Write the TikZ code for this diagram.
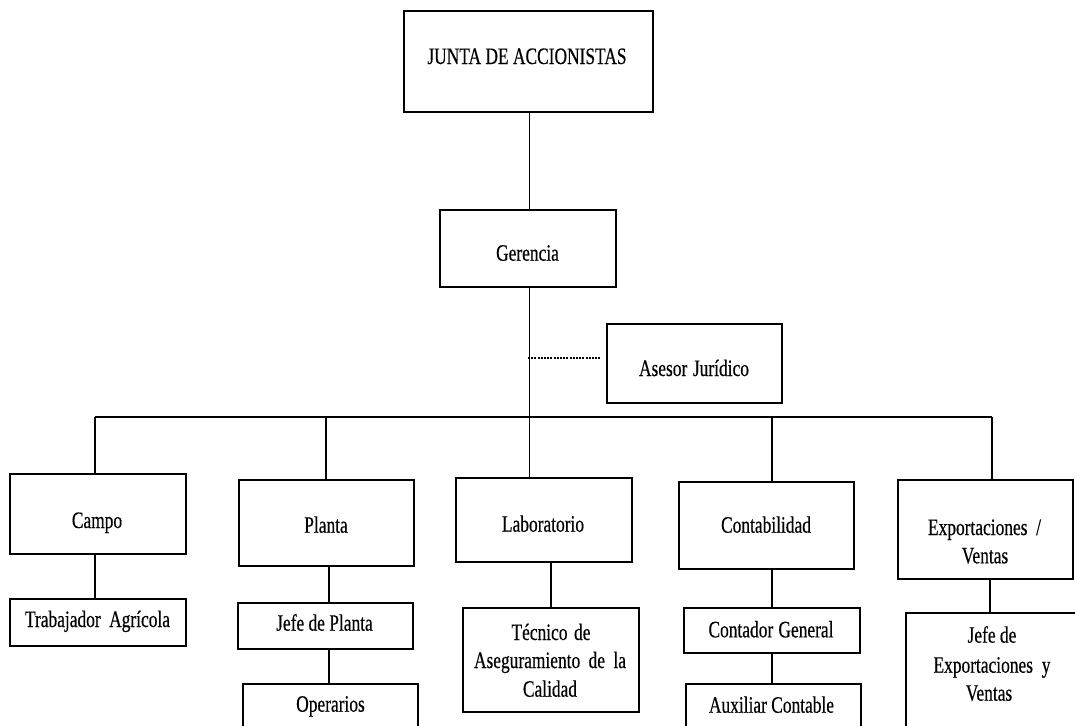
\documentclass[tikz,border=0pt]{standalone}
\usepackage{fontspec}
\setmainfont{Liberation Serif}[FakeStretch=0.74,FakeBold=0.4]
\begin{document}
\begin{tikzpicture}[x=1pt,y=-1pt,
  box/.style={draw=black, line width=1.4pt, fill=white, inner sep=0pt, outer sep=0pt},
  lbl/.style={anchor=base, inner sep=0pt, outer sep=0pt, text=black,
              font=\fontsize{23.5}{28}\selectfont},
  conn/.style={draw=black, line width=1.3pt},
  dashconn/.style={draw=black, line width=1.1pt, dash pattern=on 2pt off 1.2pt}]
\useasboundingbox (0,0) rectangle (1075,725);
\clip (0,0) rectangle (1075,725);
\fill[white] (0,0) rectangle (1075,725);

% boxes
\node[box, minimum width=249pt, minimum height=101pt] (junta) at (528.5,61.5) {};
\node[box, minimum width=176pt, minimum height=77pt] (gerencia) at (528,248.5) {};
\node[box, minimum width=175pt, minimum height=79pt] (asesor) at (694.5,363.5) {};
\node[box, minimum width=176pt, minimum height=80pt] (campo) at (98,514) {};
\node[box, minimum width=176pt, minimum height=47pt] (trab) at (98,622.5) {};
\node[box, minimum width=175pt, minimum height=86pt] (planta) at (326.5,523) {};
\node[box, minimum width=175pt, minimum height=46pt] (jefep) at (325.5,626) {};
\node[box, minimum width=175pt, minimum height=86pt] (oper) at (330.5,727) {};
\node[box, minimum width=176pt, minimum height=84pt] (lab) at (544,520) {};
\node[box, minimum width=176pt, minimum height=104pt] (tec) at (551,660) {};
\node[box, minimum width=175pt, minimum height=87pt] (contab) at (766.5,525.5) {};
\node[box, minimum width=176pt, minimum height=45pt] (contador) at (772,630.5) {};
\node[box, minimum width=175pt, minimum height=86pt] (aux) at (773.5,727) {};
\node[box, minimum width=175pt, minimum height=99pt] (export) at (985.5,529.5) {};
\node[box, minimum width=175pt, minimum height=137pt] (jefex) at (993.5,681.5) {};

% labels
\node[lbl] (junta-t) at (527,64) {JUNTA DE ACCIONISTAS};
\node[lbl] (gerencia-t) at (527.5,260.7) {Gerencia};
\node[lbl] (asesor-t) at (694,376) {\makebox[110pt][s]{Asesor Jurídico}};
\node[lbl] (campo-t) at (97,528) {Campo};
\node[lbl] (trab-t) at (97.5,627) {\makebox[145pt][s]{Trabajador Agrícola}};
\node[lbl] (planta-t) at (326,532.7) {Planta};
\node[lbl] (jefep-t) at (324.5,630.7) {Jefe de Planta};
\node[lbl] (oper-t) at (330.5,711.7) {Operarios};
\node[lbl] (lab-t) at (543,531.7) {Laboratorio};
\node[lbl] (tec-t1) at (551,640) {\makebox[79pt][s]{Técnico de}};
\node[lbl] (tec-t2) at (550,668) {\makebox[152pt][s]{Aseguramiento de la}};
\node[lbl] (tec-t3) at (550,696.7) {Calidad};
\node[lbl] (contab-t) at (766,532.7) {Contabilidad};
\node[lbl] (contador-t) at (771,637.3) {\makebox[125pt][s]{Contador General}};
\node[lbl] (aux-t) at (771.5,712.7) {Auxiliar Contable};
\node[lbl] (export-t1) at (984.5,535) {\makebox[113pt][s]{Exportaciones /}};
\node[lbl] (export-t2) at (985,563.3) {Ventas};
\node[lbl] (jefex-t1) at (992,642.7) {Jefe de};
\node[lbl] (jefex-t2) at (992,672.7) {\makebox[117pt][s]{Exportaciones y}};
\node[lbl] (jefex-t3) at (989,700.7) {Ventas};

% bus coordinates
\coordinate (trunk) at (529.5,417);
\coordinate (busL) at (95,417);
\coordinate (busR) at (992,417);
\coordinate (dashL) at (528,358);

% connectors
\draw[conn] (junta.south -| trunk) -- (gerencia.north -| trunk);
\draw[conn] (gerencia.south -| trunk) -- (lab.north -| trunk);
\draw[conn] (busL) -- (busR);
\draw[conn] (busL) -- (campo.north -| busL);
\draw[conn] (planta.north -| 326,0) -- (326,417);
\draw[conn] (contab.north -| 772,0) -- (772,417);
\draw[conn] (busR) -- (export.north -| busR);
\draw[dashconn] (dashL) -- ([xshift=-6pt]asesor.west |- dashL);

\draw[conn] (campo.south -| 95,0) -- (trab.north -| 95,0);
\draw[conn] (planta.south -| 329,0) -- (jefep.north -| 329,0);
\draw[conn] (jefep.south -| 329,0) -- (oper.north -| 329,0);
\draw[conn] (lab.south -| 551,0) -- (tec.north -| 551,0);
\draw[conn] (contab.south -| 772,0) -- (contador.north -| 772,0);
\draw[conn] (contador.south -| 772,0) -- (aux.north -| 772,0);
\draw[conn] (export.south -| 990,0) -- (jefex.north -| 990,0);
\end{tikzpicture}
\end{document}
